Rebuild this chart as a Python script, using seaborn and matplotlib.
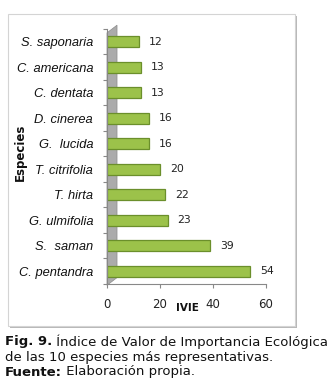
import matplotlib
matplotlib.use("Agg")
import matplotlib.pyplot as plt
import seaborn as sns
import pandas as pd
from matplotlib.patches import Rectangle, Polygon

species = ["S. saponaria", "C. americana", "C. dentata", "D. cinerea", "G.  lucida",
           "T. citrifolia", "T. hirta", "G. ulmifolia", "S.  saman", "C. pentandra"]
ivie = [12, 13, 13, 16, 16, 20, 22, 23, 39, 54]
xticks = [0, 20, 40, 60]

df = pd.DataFrame({"Especies": species, "IVIE": ivie})

sns.set_theme(style="white")
plt.rcParams['font.family'] = ['DejaVu Sans']

W, H = 334, 390
fig = plt.figure(figsize=(W / 100, H / 100), dpi=100)

def fx(px):
    return px / W

def fy(py):
    return 1 - py / H

# chart box with shadow
shadow = Rectangle((fx(10), fy(328)), fx(287), (312) / H, transform=fig.transFigure,
                   facecolor="#b8b8b8", edgecolor="none", zorder=-3)
box = Rectangle((fx(8), fy(326)), fx(287), (312) / H, transform=fig.transFigure,
                facecolor="white", edgecolor="#d4d4d4", lw=0.8, zorder=-2)
fig.patches.extend([shadow, box])

ax = fig.add_axes([fx(107), fy(284), fx(266 - 107), (284 - 29) / H])
ax.set_facecolor("none")

# 3D-like wall
wall = Polygon([(0, 0.985), (0.063, 1.015), (0.063, 0.025), (0, -0.005)], closed=True,
               transform=ax.transAxes, facecolor="#ababab", edgecolor="#8c8c8c",
               lw=0.5, zorder=0.5, clip_on=False)
ax.add_patch(wall)

sns.barplot(data=df, x="IVIE", y="Especies", ax=ax, color="#9CC24A", width=0.42,
            edgecolor="#6B8F2B", linewidth=0.9, saturation=1, zorder=2)

for i, v in enumerate(ivie):
    ax.annotate(f"{v}", (v, i), xytext=(7, 0), textcoords="offset points",
                va="center", ha="left", fontsize=7.8, color="#222222")

ax.set_xlim(0, 60)
ax.set_ylim(9.5, -0.5)
ax.set_xticks(xticks)
ax.set_xticklabels([str(t) for t in xticks], fontsize=8.5, color="#222222")
ax.set_yticks(range(len(species)))
ax.set_yticklabels(species, fontsize=9.3, style="italic", family="Liberation Sans",
                   color="#111111")
ax.set_yticks([i - 0.5 for i in range(len(species) + 1)], minor=True)
ax.tick_params(axis="y", which="major", length=0, pad=10)
ax.tick_params(axis="y", which="minor", length=3, color="#888888", width=0.8, left=True)
ax.tick_params(axis="x", which="major", length=3, color="#888888", width=0.8,
               bottom=True, pad=7)

for s in ["top", "right"]:
    ax.spines[s].set_visible(False)
for s in ["left", "bottom"]:
    ax.spines[s].set_color("#888888")
    ax.spines[s].set_linewidth(0.8)

ax.set_xlabel("")
ax.set_ylabel("")
fig.text(fx(187), fy(308), "IVIE", fontsize=7.5, fontweight="bold", ha="center",
         va="center", color="#111111")
fig.text(fx(20), fy(152), "Especies", fontsize=8.5, fontweight="bold", rotation=90,
         ha="center", va="center", color="#111111")

# caption
cap_fs = 9.55
fig.canvas.draw()
renderer = fig.canvas.get_renderer()

def mixed_line(y_px, bold_txt, rest_txt):
    x0 = fx(5)
    if bold_txt:
        t = fig.text(x0, fy(y_px), bold_txt, fontsize=cap_fs, fontweight="bold",
                     va="center", ha="left", color="#111111")
        bb = t.get_window_extent(renderer=renderer)
        x0 = bb.x1 / W
    fig.text(x0, fy(y_px), rest_txt, fontsize=cap_fs, va="center", ha="left",
             color="#111111")

mixed_line(342, "Fig. 9.", " Índice de Valor de Importancia Ecológica")
mixed_line(357, "", "de las 10 especies más representativas.")
mixed_line(372, "Fuente:", " Elaboración propia.")

fig.savefig("out.png", dpi=100)
